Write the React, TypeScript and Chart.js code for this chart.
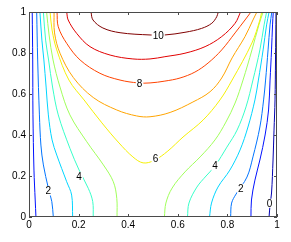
import React, { useEffect, useRef } from 'react';
import { Chart, registerables } from 'chart.js';

Chart.register(...registerables);

const FONT = "'Liberation Sans', Arial, Helvetica, sans-serif";

// contour levels and their colours (jet-like colormap)
const levels = [0, 1, 2, 3, 4, 5, 6, 7, 8, 9, 10];
const levelColors = [
  'rgb(0,0,176)',
  'rgb(0,18,255)',
  'rgb(0,116,255)',
  'rgb(0,213,255)',
  'rgb(55,255,201)',
  'rgb(160,255,90)',
  'rgb(245,240,5)',
  'rgb(255,164,0)',
  'rgb(255,67,0)',
  'rgb(225,0,0)',
  'rgb(128,0,0)',
];

// contour polylines [x, y]
const c10 = [[0.25, 1.0], [0.258, 0.961], [0.298, 0.922], [0.367, 0.899], [0.488, 0.888], [0.548, 0.888], [0.629, 0.901], [0.696, 0.92], [0.737, 0.945], [0.757, 0.977], [0.763, 1.0]];
const c9 = [[0.152, 1.0], [0.158, 0.961], [0.192, 0.896], [0.246, 0.831], [0.327, 0.79], [0.419, 0.771], [0.488, 0.771], [0.548, 0.782], [0.629, 0.799], [0.71, 0.831], [0.777, 0.88], [0.831, 0.945], [0.853, 1.0]];
const c8 = [[0.113, 1.0], [0.118, 0.928], [0.152, 0.847], [0.206, 0.766], [0.286, 0.701], [0.367, 0.668], [0.44, 0.654], [0.488, 0.654], [0.548, 0.663], [0.609, 0.678], [0.669, 0.707], [0.722, 0.751], [0.777, 0.815], [0.831, 0.898], [0.871, 0.961], [0.895, 1.0]];
const c7 = [[0.101, 1.0], [0.103, 0.898], [0.125, 0.799], [0.179, 0.68], [0.259, 0.583], [0.354, 0.522], [0.434, 0.493], [0.488, 0.489], [0.569, 0.51], [0.661, 0.561], [0.73, 0.611], [0.777, 0.678], [0.819, 0.776], [0.871, 0.88], [0.903, 0.961], [0.919, 1.0]];
const c6 = [[0.085, 1.0], [0.093, 0.912], [0.112, 0.815], [0.161, 0.668], [0.222, 0.571], [0.294, 0.459], [0.363, 0.361], [0.419, 0.293], [0.46, 0.264], [0.505, 0.276], [0.56, 0.322], [0.621, 0.39], [0.702, 0.473], [0.77, 0.571], [0.819, 0.668], [0.899, 0.849], [0.931, 0.961], [0.938, 1.0]];
const c5Left = [[0.071, 1.0], [0.081, 0.888], [0.097, 0.766], [0.125, 0.634], [0.165, 0.498], [0.233, 0.367], [0.3, 0.254], [0.34, 0.172], [0.354, 0.091], [0.355, 0.0]];
const c4Left = [[0.058, 1.0], [0.067, 0.863], [0.079, 0.766], [0.095, 0.634], [0.118, 0.498], [0.165, 0.335], [0.202, 0.229], [0.239, 0.14], [0.257, 0.075], [0.259, 0.0]];
const c3Left = [[0.044, 1.0], [0.052, 0.863], [0.06, 0.766], [0.069, 0.634], [0.078, 0.498], [0.093, 0.376], [0.112, 0.302], [0.152, 0.172], [0.172, 0.107], [0.176, 0.0]];
const c2Left = [[0.031, 1.0], [0.035, 0.766], [0.042, 0.498], [0.048, 0.351], [0.058, 0.254], [0.078, 0.141], [0.092, 0.075], [0.098, 0.0]];
const c1Left = [[0.013, 1.0], [0.015, 0.766], [0.016, 0.498], [0.02, 0.229], [0.025, 0.083], [0.028, 0.0]];
const c5Right = [[0.546, 0.0], [0.552, 0.068], [0.577, 0.141], [0.629, 0.22], [0.69, 0.293], [0.75, 0.376], [0.794, 0.463], [0.831, 0.556], [0.863, 0.668], [0.899, 0.815], [0.927, 0.937], [0.944, 1.0]];
const c4Right = [[0.639, 0.0], [0.645, 0.068], [0.677, 0.146], [0.714, 0.2], [0.75, 0.249], [0.798, 0.341], [0.839, 0.424], [0.875, 0.537], [0.903, 0.668], [0.931, 0.815], [0.948, 0.937], [0.958, 1.0]];
const c3Right = [[0.728, 0.0], [0.736, 0.068], [0.762, 0.146], [0.81, 0.229], [0.851, 0.327], [0.883, 0.439], [0.911, 0.571], [0.925, 0.668], [0.944, 0.815], [0.958, 0.937], [0.968, 1.0]];
const c2Right = [[0.813, 0.0], [0.817, 0.068], [0.835, 0.112], [0.879, 0.195], [0.903, 0.293], [0.931, 0.439], [0.946, 0.571], [0.954, 0.668], [0.964, 0.815], [0.972, 0.937], [0.979, 1.0]];
const c1Right = [[0.895, 0.0], [0.897, 0.083], [0.911, 0.18], [0.931, 0.278], [0.952, 0.4], [0.966, 0.522], [0.972, 0.668], [0.978, 0.815], [0.982, 0.937], [0.985, 1.0]];
const c0Right = [[0.968, 0.0], [0.972, 0.059], [0.978, 0.117], [0.984, 0.278], [0.988, 0.424], [0.992, 0.571], [0.994, 0.766], [0.996, 1.0]];

const contourLevels = [10, 9, 8, 7, 6, 5, 4, 3, 2, 1, 5, 4, 3, 2, 1, 0];
const contourLines = [c10, c9, c8, c7, c6, c5Left, c4Left, c3Left, c2Left, c1Left, c5Right, c4Right, c3Right, c2Right, c1Right, c0Right];

// inline contour labels
const labelTexts = ['10', '8', '6', '4', '2', '4', '2', '0'];
const labelX = [0.521, 0.446, 0.51, 0.202, 0.078, 0.75, 0.854, 0.97];
const labelY = [0.883, 0.652, 0.284, 0.198, 0.127, 0.249, 0.14, 0.067];

const tickValues = [0, 0.2, 0.4, 0.6, 0.8, 1];

const AXIS_COLOR = '#4a4a4a';

const labelPlugin = {
  id: 'contourLabels',
  afterDatasetsDraw(chart: any) {
    const { ctx, scales } = chart;
    const xs = scales.x;
    const ys = scales.y;
    ctx.save();
    ctx.font = `10px ${FONT}`;
    ctx.textAlign = 'center';
    ctx.textBaseline = 'middle';
    labelTexts.forEach((t, i) => {
      const px = xs.getPixelForValue(labelX[i]);
      const py = ys.getPixelForValue(labelY[i]);
      const w = ctx.measureText(t).width + 2;
      ctx.fillStyle = '#ffffff';
      ctx.fillRect(px - w / 2, py - 4.5, w, 9);
      ctx.fillStyle = '#000000';
      ctx.fillText(t, px, py + 0.5);
    });
    ctx.restore();
  },
};

const framePlugin = {
  id: 'frame',
  afterDraw(chart: any) {
    const { ctx, chartArea, scales } = chart;
    const { left, right, top, bottom } = chartArea;
    const xs = scales.x;
    const ys = scales.y;
    ctx.save();
    ctx.strokeStyle = AXIS_COLOR;
    ctx.lineWidth = 1;
    ctx.strokeRect(left + 0.5, top + 0.5, right - left - 1, bottom - top - 1);
    ctx.beginPath();
    const tl = 3;
    tickValues.forEach((v) => {
      const px = Math.round(xs.getPixelForValue(v)) + 0.5;
      ctx.moveTo(px, bottom);
      ctx.lineTo(px, bottom - tl);
      ctx.moveTo(px, top);
      ctx.lineTo(px, top + tl);
      const py = Math.round(ys.getPixelForValue(v)) + 0.5;
      ctx.moveTo(left, py);
      ctx.lineTo(left + tl, py);
      ctx.moveTo(right, py);
      ctx.lineTo(right - tl, py);
    });
    ctx.stroke();
    ctx.restore();
  },
};

export default function App() {
  const canvasRef = useRef<HTMLCanvasElement | null>(null);

  useEffect(() => {
    const canvas = canvasRef.current;
    if (!canvas) return;
    const datasets = contourLines.map((pts, i) => ({
      data: pts.map((p) => ({ x: p[0], y: p[1] })),
      showLine: true,
      borderColor: levelColors[levels.indexOf(contourLevels[i])],
      borderWidth: 1,
      pointRadius: 0,
      tension: 0.35,
      fill: false,
    }));
    const chart = new Chart(canvas, {
      type: 'scatter',
      data: { datasets },
      options: {
        responsive: false,
        animation: false,
        devicePixelRatio: 1,
        layout: { padding: { top: 12, right: 14, left: 0, bottom: 0 } },
        plugins: { legend: { display: false }, tooltip: { enabled: false } },
        scales: {
          x: {
            type: 'linear',
            min: 0,
            max: 1,
            grid: { display: false, drawTicks: false },
            border: { display: false },
            afterFit: (s: any) => {
              s.height = 25;
            },
            ticks: {
              stepSize: 0.2,
              padding: 2,
              color: '#000',
              font: { size: 10, family: FONT },
              maxRotation: 0,
              callback: (v: any) => String(Number(Number(v).toFixed(1))),
            },
          },
          y: {
            type: 'linear',
            min: 0,
            max: 1,
            grid: { display: false, drawTicks: false },
            border: { display: false },
            afterFit: (s: any) => {
              s.width = 29;
            },
            ticks: {
              stepSize: 0.2,
              padding: 3,
              color: '#000',
              font: { size: 10, family: FONT },
              callback: (v: any) => String(Number(Number(v).toFixed(1))),
            },
          },
        },
      },
      plugins: [labelPlugin, framePlugin],
    } as any);
    return () => chart.destroy();
  }, []);

  return (
    <div style={{ position: 'fixed', left: 0, top: 0, width: 291, height: 242, background: '#fff' }}>
      <canvas ref={canvasRef} width={291} height={242} style={{ display: 'block', width: 291, height: 242 }} />
    </div>
  );
}
